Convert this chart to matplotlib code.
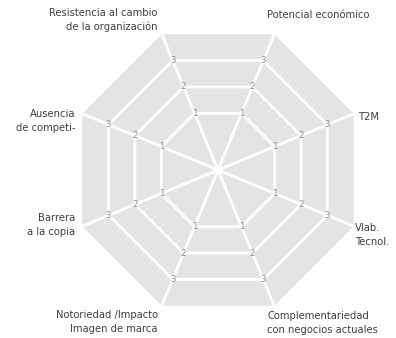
import numpy as np
import matplotlib
matplotlib.use("Agg")
import matplotlib.pyplot as plt

# ---- data ----
categories = [
    "Potencial económico",
    "T2M",
    "Vlab.\nTecnol.",
    "Complementariedad\ncon negocios actuales",
    "Notoriedad /Impacto\nImagen de marca",
    "Barrera\na la copia",
    "Ausencia\nde competi-",
    "Resistencia al cambio\nde la organización",
]
ring_levels = [1, 2, 3]
tick_labels = ["1", "2", "3"]
r_min, r_max = -1.15, 4

W, H = 396, 338
fig = plt.figure(figsize=(W / 100, H / 100), dpi=100)
fig.patch.set_facecolor("white")

def fx(x):
    return x / W

def fy(y):
    return 1 - y / H

cx, cy, rad = 218, 170, 147
ax = fig.add_axes([fx(cx - rad), fy(cy + rad), 2 * rad / W, 2 * rad / H], projection="polar")
ax.set_theta_offset(np.deg2rad(67.5))
ax.set_theta_direction(-1)
ax.set_ylim(r_min, r_max)
ax.set_xticks([])
ax.set_yticks([])
ax.grid(False)
ax.spines["polar"].set_visible(False)
ax.patch.set_alpha(0)

n = len(categories)
theta = np.arange(n) * 2 * np.pi / n
theta_c = np.append(theta, theta[0])

grey = "#e4e4e4"
ax.fill(theta_c, [r_max] * (n + 1), color=grey, lw=0, zorder=1)

for lvl in ring_levels:
    ax.plot(theta_c, [lvl] * (n + 1), color="white", lw=2.0, zorder=2, solid_joinstyle="miter")
for t in theta:
    ax.plot([t, t], [r_min, r_max], color="white", lw=2.0, zorder=2)

for t in theta:
    for lvl, lab in zip(ring_levels, tick_labels):
        ax.text(t, lvl, lab, ha="center", va="center", fontsize=6.2, color="#8c8c8c", zorder=3)

# axis labels
lab_col = "#404040"
fs = 7.2
pos = [
    (267, 15, "left"),
    (358, 117, "left"),
    (355, 235, "left"),
    (267, 323, "left"),
    (158, 322, "right"),
    (75, 225, "right"),
    (75, 121, "right"),
    (157, 20, "right"),
]
for cat, (x, y, ha) in zip(categories, pos):
    fig.text(fx(x), fy(y), cat, ha=ha, va="center", fontsize=fs, color=lab_col,
             linespacing=1.4, multialignment=ha)

fig.savefig("out.png", dpi=100)
